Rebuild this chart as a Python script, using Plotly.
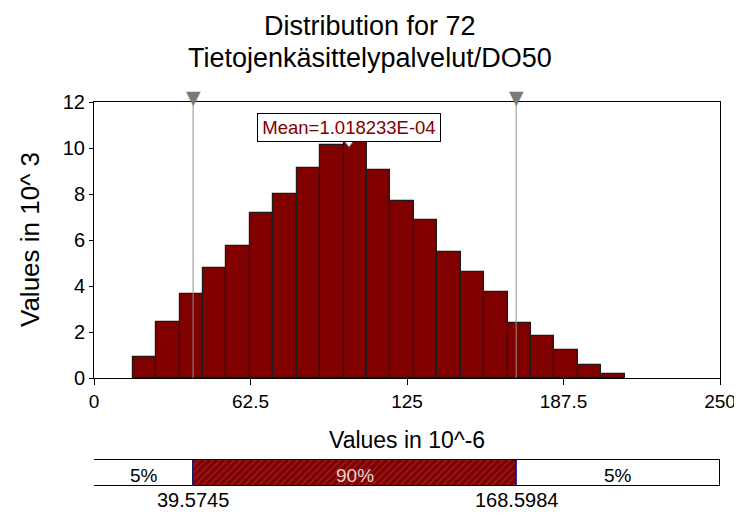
import plotly.graph_objects as go

# ---- data ----
bin_edges = [15.48, 24.83, 34.19, 43.54, 52.90, 62.25, 71.60, 80.96, 90.31, 99.67,
             109.02, 118.37, 127.73, 137.08, 146.44, 155.79, 165.14, 174.50, 183.85,
             193.21, 202.56, 211.92]
counts = [0.91, 2.42, 3.64, 4.78, 5.75, 7.17, 8.01, 9.14, 10.13, 10.32, 9.04,
          7.71, 6.87, 5.46, 4.61, 3.72, 2.41, 1.83, 1.23, 0.57, 0.19]
p_low = 39.5745
p_high = 168.5984
mean_val = 101.8233
mean_label = "Mean=1.018233E-04"
seg_labels = ["5%", "90%", "5%"]
x_ticks = [0, 62.5, 125, 187.5, 250]
x_tick_text = ["0", "62.5", "125", "187.5", "250"]
y_ticks = [0, 2, 4, 6, 8, 10, 12]
title_lines = ["Distribution for 72", "Tietojenkäsittelypalvelut/DO50"]

FONT = "Liberation Sans, Arial, sans-serif"
DARKRED = "#800000"

# page offset of 8px (body margin); plot area on page: x 94..720, y 102..487
OFF = 8
def py(pix):
    return (487 - pix) / 385.0
def px(pix):
    return (pix - 94) / 626.0

centers = [(a + b) / 2 for a, b in zip(bin_edges[:-1], bin_edges[1:])]
widths = [b - a for a, b in zip(bin_edges[:-1], bin_edges[1:])]

fig = go.Figure()
fig.add_trace(go.Bar(x=centers, y=counts, width=widths,
                     marker=dict(color=DARKRED, line=dict(color="#1a1a1a", width=1.2)),
                     xaxis="x", yaxis="y", showlegend=False, hoverinfo="skip"))

for p in (p_low, p_high):
    fig.add_shape(type="line", x0=p, x1=p, y0=0, y1=12, xref="x", yref="y",
                  line=dict(color="#909090", width=1), layer="above")
    fig.add_annotation(x=p, y=12, xref="x", yref="y", text="▼", showarrow=False,
                       yanchor="bottom", yshift=-8,
                       font=dict(family="DejaVu Sans", size=19, color="#7a7a7a"))

fig.add_trace(go.Scatter(x=[mean_val], y=[10.22], mode="markers",
                         marker=dict(symbol="triangle-down", size=9, color="white",
                                     line=dict(color="#404040", width=1)),
                         cliponaxis=False, showlegend=False, hoverinfo="skip",
                         xaxis="x", yaxis="y"))
fig.add_annotation(x=mean_val, y=10.91, xref="x", yref="y", text=mean_label,
                   showarrow=False, font=dict(family=FONT, size=18.5, color=DARKRED),
                   width=180, height=25, align="center", valign="middle",
                   bgcolor="white", bordercolor="black", borderwidth=1, borderpad=1)

seg_base = [0, p_low, p_high]
seg_len = [p_low - 0, p_high - p_low, 250 - p_high]
seg_colors = ["white", DARKRED, "white"]
for i in range(3):
    pat = dict(shape="/", fgcolor="#b04848", bgcolor=DARKRED, size=5, solidity=0.25) if i == 1 else dict(shape="")
    fig.add_trace(go.Bar(y=[0.5], x=[seg_len[i]], base=[seg_base[i]], orientation="h",
                         width=[0.93], marker=dict(color=seg_colors[i], pattern=pat,
                                                   line=dict(color="black", width=1)),
                         xaxis="x2", yaxis="y2", showlegend=False, hoverinfo="skip"))
    fig.add_annotation(x=seg_base[i] + seg_len[i] / 2, y=0.42, xref="x2", yref="y2",
                       text=seg_labels[i], showarrow=False,
                       font=dict(family=FONT, size=19,
                                 color="#e8d0d0" if i == 1 else "black"))
for p in (p_low, p_high):
    fig.add_shape(type="line", x0=p, x1=p, y0=0.035, y1=0.965, xref="x2", yref="y2",
                  line=dict(color="#2020a0", width=1.5), layer="above")
    fig.add_annotation(x=p, y=py(500), xref="x2", yref="paper", yanchor="middle",
                       text=f"{p:.4f}", showarrow=False,
                       font=dict(family=FONT, size=20, color="black"))

fig.add_annotation(x=0.5, y=py(440), xref="paper", yref="paper", text="Values in 10^-6",
                   showarrow=False, yanchor="middle",
                   font=dict(family=FONT, size=23, color="black"))
fig.add_annotation(x=px(30), y=py(240), xref="paper", yref="paper", text="Values in 10^ 3",
                   showarrow=False, textangle=-90, xanchor="center", yanchor="middle",
                   font=dict(family=FONT, size=26, color="black"))
for line, pix in zip(title_lines, (26, 58)):
    fig.add_annotation(x=px(370), y=py(pix), xref="paper", yref="paper",
                       text=line, showarrow=False, yanchor="middle",
                       font=dict(family=FONT, size=27, color="black"))

fig.update_layout(
    width=742, height=515,
    margin=dict(l=94 - OFF, r=742 - (720 - OFF), t=102 - OFF, b=515 - (487 - OFF),
                autoexpand=False),
    paper_bgcolor="white", plot_bgcolor="white",
    font=dict(family=FONT, color="black"),
    barmode="overlay", bargap=0,
    xaxis=dict(range=[0, 250], tickvals=x_ticks, ticktext=x_tick_text, automargin=False,
               showgrid=False, zeroline=False, showline=True, linecolor="black",
               linewidth=1, mirror=True, ticks="outside", ticklen=6, tickcolor="black",
               tickfont=dict(family=FONT, size=19), anchor="y"),
    yaxis=dict(range=[0, 12], tickvals=y_ticks, domain=[py(378), 1.0], automargin=False,
               showgrid=False, zeroline=False, showline=True, linecolor="black",
               linewidth=1, mirror=True, ticks="outside", ticklen=4, tickcolor="black",
               tickfont=dict(family=FONT, size=20)),
    xaxis2=dict(range=[0, 250], visible=False, anchor="y2"),
    yaxis2=dict(range=[0, 1], visible=False, domain=[0.0, py(459)], anchor="x2"),
)

fig.write_html("out.html")
